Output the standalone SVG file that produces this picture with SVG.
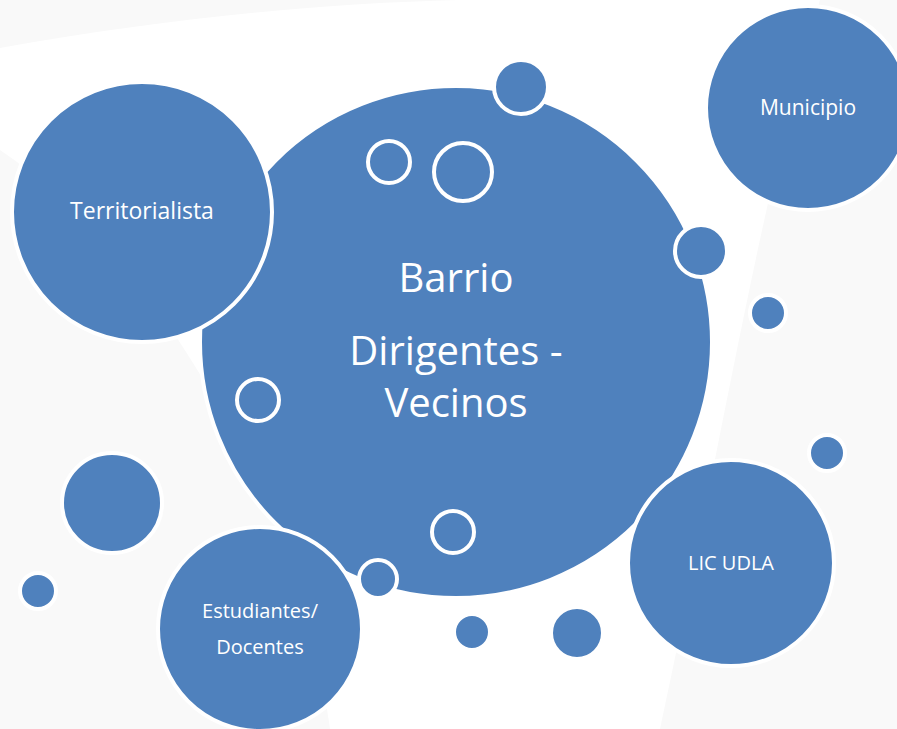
<svg xmlns="http://www.w3.org/2000/svg" width="897" height="729" viewBox="0 0 897 729">
<style>
.b{fill:#4F81BD;stroke:#FFFFFF;stroke-width:4}
.r{fill:#4F81BD;stroke:#FFFFFF;stroke-width:4}
.t{fill:#FFFFFF;font-family:"Open Sans","Liberation Sans",sans-serif;text-anchor:middle}
.s{font-size:20px}
.m{font-size:40px}
</style>
<rect x="0" y="0" width="897" height="729" fill="#F9F9F9"/>
<path d="M0,48 C200,12 400,-4 560,0 L820,0 C760,200 720,450 660,729 L330,729 C300,500 150,250 0,150 Z" fill="#FFFFFF"/>
<g id="barrio">
<circle class="b" cx="456" cy="342" r="256"/>
<text class="t m" x="456" y="292">Barrio</text>
<text class="t m" x="456" y="365">Dirigentes -</text>
<text class="t m" x="456" y="417">Vecinos</text>
</g>
<g id="territorialista">
<circle class="b" cx="142" cy="212" r="130"/>
<text class="t" x="142" y="219" font-size="23">Territorialista</text>
</g>
<g id="municipio">
<circle class="b" cx="808" cy="108" r="102"/>
<text class="t" x="808" y="115" font-size="21">Municipio</text>
</g>
<g id="licudla">
<circle class="b" cx="731" cy="563" r="103"/>
<text class="t s" x="731" y="570">LIC UDLA</text>
</g>
<g id="estudiantes">
<circle class="b" cx="260" cy="629" r="102"/>
<text class="t s" x="260" y="618">Estudiantes/</text>
<text class="t s" x="260" y="654">Docentes</text>
</g>
<g id="bubbles">
<circle class="b" cx="521" cy="87" r="27" stroke-width="5"/>
<circle class="b" cx="701" cy="251" r="26" stroke-width="5"/>
<circle class="b" cx="378" cy="579" r="19" stroke-width="5"/>
<circle class="b" cx="768" cy="313" r="18"/>
<circle class="b" cx="827" cy="453" r="18"/>
<circle class="b" cx="112" cy="503" r="50"/>
<circle class="b" cx="38" cy="591" r="18"/>
<circle class="b" cx="472" cy="632" r="18"/>
<circle class="b" cx="577" cy="633" r="26"/>
<circle class="r" cx="389" cy="162" r="21"/>
<circle class="r" cx="463" cy="172" r="29"/>
<circle class="r" cx="258" cy="400" r="21"/>
<circle class="r" cx="453" cy="532" r="21"/>
</g>
<g id="connectors"></g>
</svg>
